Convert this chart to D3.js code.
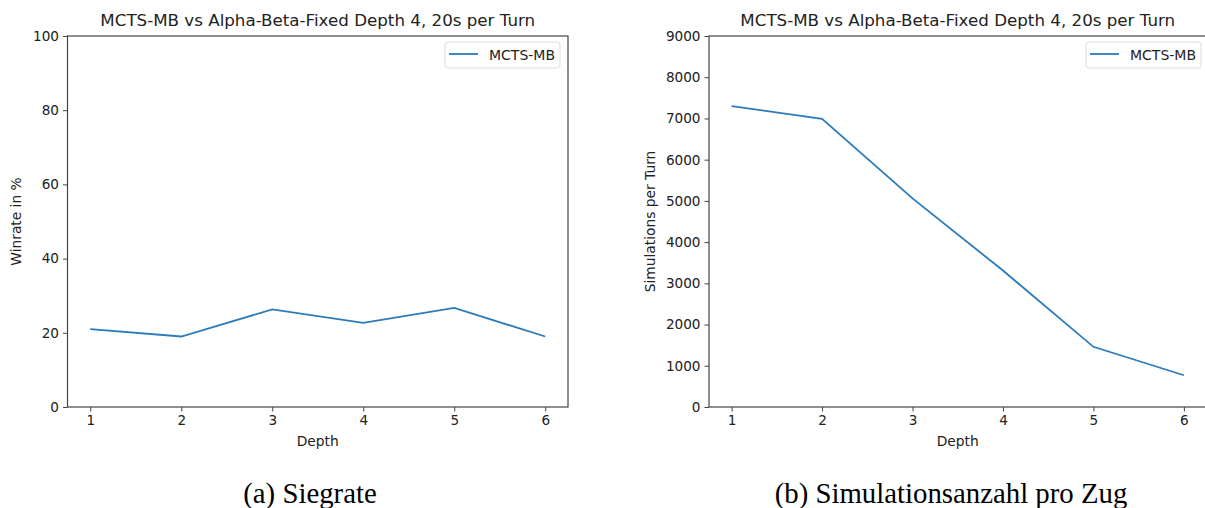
<!DOCTYPE html>
<html><head><meta charset="utf-8">
<script src="https://cdn.jsdelivr.net/npm/d3@7"></script>
<style>body{margin:0;background:#fff;}svg{display:block;}</style>
</head><body>
<svg id="c" width="1205" height="508"></svg>
<script>
const depths = [1, 2, 3, 4, 5, 6];
const winrate = [21.0, 19.0, 26.3, 22.7, 26.7, 19.0];
const simulations = [7300, 6990, 5060, 3310, 1460, 770];
const winrateTicks = [0, 20, 40, 60, 80, 100];
const simTicks = [0, 1000, 2000, 3000, 4000, 5000, 6000, 7000, 8000, 9000];
const title = "MCTS-MB vs Alpha-Beta-Fixed Depth 4, 20s per Turn";
const seriesName = "MCTS-MB";

const svg = d3.select("#c");
const FONT = "DejaVu Sans, sans-serif";
const AX = "#444";
const LINE = "#2a7bbb";

function panel(o) {
  const g = svg.append("g");
  const x = d3.scaleLinear().domain([0.75, 6.25]).range([o.left, o.right]);
  const y = d3.scaleLinear().domain(o.ydom).range([o.bottom, o.top]);

  const xa = g.append("g").attr("transform", `translate(0,${o.bottom})`)
    .call(d3.axisBottom(x).tickValues(depths).tickSize(4.5).tickPadding(4).tickFormat(d3.format("d")));
  const ya = g.append("g").attr("transform", `translate(${o.left},0)`)
    .call(d3.axisLeft(y).tickValues(o.ticks).tickSize(4.5).tickPadding(4).tickFormat(d3.format("d")));
  [xa, ya].forEach(a => {
    a.select(".domain").remove();
    a.selectAll("line").attr("stroke", AX);
    a.selectAll("text").attr("fill", "#222").style("font-family", FONT).style("font-size", "13.6px");
  });

  g.append("rect").attr("x", o.left).attr("y", o.top)
    .attr("width", o.right - o.left).attr("height", o.bottom - o.top)
    .attr("fill", "none").attr("stroke", AX).attr("stroke-width", 1.2);

  g.append("path").datum(depths.map((d, i) => [d, o.values[i]]))
    .attr("fill", "none").attr("stroke", LINE).attr("stroke-width", 1.8)
    .attr("d", d3.line().x(d => x(d[0])).y(d => y(d[1])));

  g.append("text").attr("x", (o.left + o.right) / 2).attr("y", 25.5)
    .attr("text-anchor", "middle").style("font-family", FONT).style("font-size", "16.7px")
    .attr("fill", "#222").text(title);

  g.append("text").attr("x", (o.left + o.right) / 2).attr("y", 446)
    .attr("text-anchor", "middle").style("font-family", FONT).style("font-size", "13.8px")
    .attr("fill", "#222").text("Depth");

  g.append("text").attr("transform", `translate(${o.ylabX},${(o.top + o.bottom) / 2}) rotate(-90)`)
    .attr("text-anchor", "middle").style("font-family", FONT).style("font-size", "13.8px")
    .attr("fill", "#222").text(o.ylabel);

  const lg = g.append("g");
  lg.append("rect").attr("x", o.legX).attr("y", 42).attr("width", 115).attr("height", 26)
    .attr("rx", 3).attr("fill", "#fff").attr("stroke", "#ddd");
  lg.append("line").attr("x1", o.legX + 4).attr("x2", o.legX + 33).attr("y1", 54).attr("y2", 54)
    .attr("stroke", LINE).attr("stroke-width", 1.8);
  lg.append("text").attr("x", o.legX + 44).attr("y", 59.5).style("font-family", FONT)
    .style("font-size", "14px").attr("fill", "#222").text(seriesName);

  svg.append("text").attr("x", o.capX).attr("y", 502.5).attr("text-anchor", "middle")
    .style("font-family", "Liberation Serif, serif").style("font-size", "28.8px")
    .attr("fill", "#000").text(o.caption);
}

panel({left: 67.5, right: 568, top: 36, bottom: 407, ydom: [0, 100], ticks: winrateTicks,
  values: winrate, ylabel: "Winrate in %", ylabX: 21, legX: 445, capX: 310, caption: "(a) Siegrate"});
panel({left: 709, right: 1206.5, top: 36, bottom: 407, ydom: [0, 9000], ticks: simTicks,
  values: simulations, ylabel: "Simulations per Turn", ylabX: 655, legX: 1086, capX: 951, caption: "(b) Simulationsanzahl pro Zug"});
</script>
</body></html>
